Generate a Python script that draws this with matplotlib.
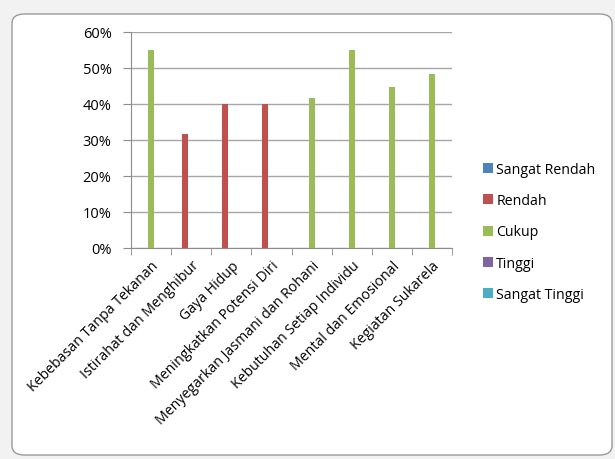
import matplotlib
matplotlib.use("Agg")
import matplotlib.pyplot as plt
import numpy as np
from matplotlib.patches import FancyBboxPatch
from matplotlib.ticker import FixedLocator, PercentFormatter

categories = ["Kebebasan Tanpa Tekanan", "Istirahat dan Menghibur", "Gaya Hidup",
              "Meningkatkan Potensi Diri", "Menyegarkan Jasmani dan Rohani",
              "Kebutuhan Setiap Individu", "Mental dan Emosional", "Kegiatan Sukarela"]
series_names = ["Sangat Rendah", "Rendah", "Cukup", "Tinggi", "Sangat Tinggi"]
sangat_rendah = [0, 0, 0, 0, 0, 0, 0, 0]
rendah = [0, 31.7, 40, 40, 0, 0, 0, 0]
cukup = [55, 0, 0, 0, 41.7, 55, 44.7, 48.3]
tinggi = [0, 0, 0, 0, 0, 0, 0, 0]
sangat_tinggi = [0, 0, 0, 0, 0, 0, 0, 0]
series_values = [sangat_rendah, rendah, cukup, tinggi, sangat_tinggi]
colors = ["#4F81BD", "#C0504D", "#9BBB59", "#8064A2", "#4BACC6"]
yticks = [0, 10, 20, 30, 40, 50, 60]

plt.rcParams['font.family'] = ['Open Sans', 'DejaVu Sans']
fig = plt.figure(figsize=(6.15, 4.6), dpi=100)
fig.patch.set_facecolor("#f2f2f2")

# chart area frame
frame = FancyBboxPatch((12/615, 4/460), 600/615, 441/460,
                       boxstyle="round,pad=0,rounding_size=0.02",
                       transform=fig.transFigure, facecolor="white",
                       edgecolor="#9a9a9a", linewidth=1.0, zorder=0)
fig.patches.append(frame)

ax = fig.add_axes([131/615, 1 - 249/460, (452-131)/615, (249-33)/460])
ax.set_zorder(2)
ax.set_facecolor("none")
x = np.arange(len(categories))
w = 0.15
for i, (name, vals, c) in enumerate(zip(series_names, series_values, colors)):
    ax.bar(x + (i - 2) * w, vals, width=w, color=c, label=name, zorder=3)

ax.set_xlim(-0.5, len(categories) - 0.5)
ax.set_ylim(0, 60)
ax.yaxis.set_major_locator(FixedLocator(yticks))
ax.yaxis.set_major_formatter(PercentFormatter(decimals=0))
ax.grid(axis='y', color="#a6a6a6", linewidth=1.0, zorder=0)
for s in ["top", "right"]:
    ax.spines[s].set_visible(False)
for s in ["left", "bottom"]:
    ax.spines[s].set_color("#8c8c8c")
ax.set_xticks(x)
ax.set_xticklabels(categories, rotation=45, ha='right', rotation_mode='anchor', fontsize=10.2)
ax.tick_params(axis='x', length=0, pad=7)
ax.set_xticks(np.arange(-0.5, len(categories), 1), minor=True)
ax.tick_params(axis='x', which='minor', length=5, color="#8c8c8c", direction='out')
ax.tick_params(axis='y', length=6, color="#8c8c8c", labelsize=10.5, pad=8)

handles, labels = ax.get_legend_handles_labels()
leg = fig.legend(handles, labels, loc='center left', bbox_to_anchor=(470/615, 1 - 233/460),
                 frameon=False, fontsize=10.2, handlelength=0.7, handleheight=0.7,
                 handletextpad=0.25, labelspacing=1.15)
leg.set_zorder(3)

fig.savefig("out.png", dpi=100, facecolor=fig.get_facecolor())
